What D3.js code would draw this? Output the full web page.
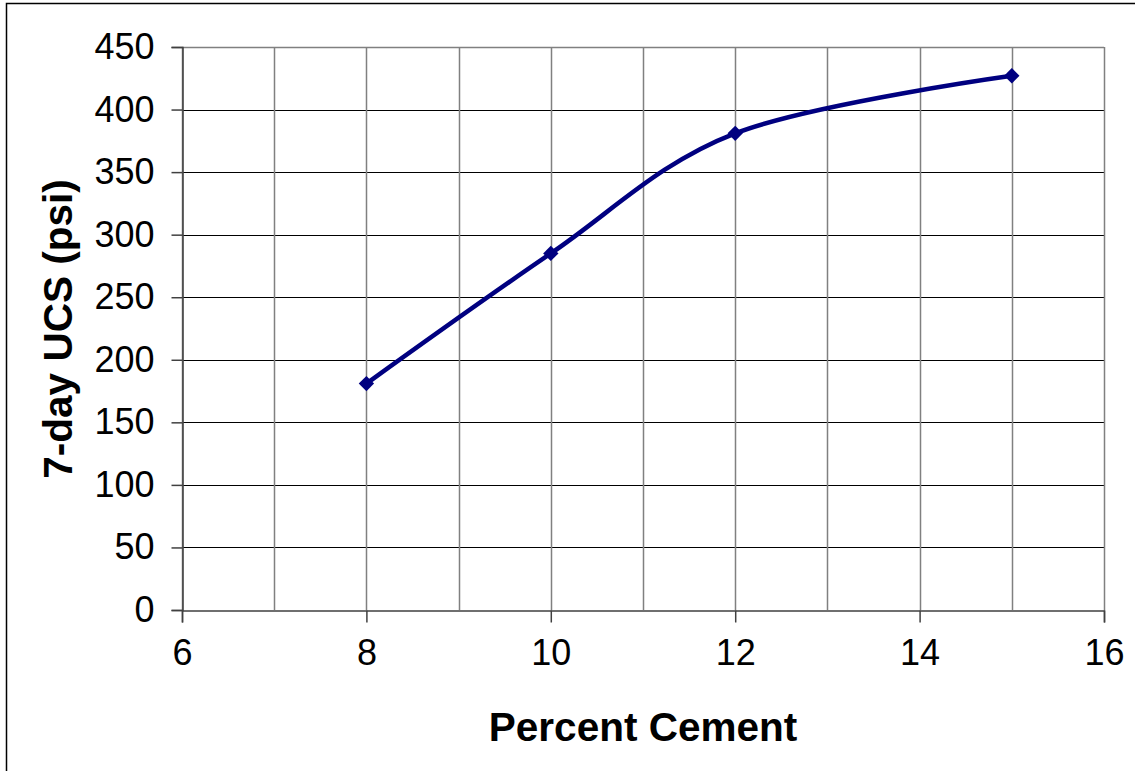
<!DOCTYPE html>
<html>
<head>
<meta charset="utf-8">
<script src="https://cdn.jsdelivr.net/npm/d3@7"></script>
<style>
html,body{margin:0;padding:0;background:#fff;}
svg{display:block;}
text{font-family:"Liberation Sans",Arial,sans-serif;fill:#000;}
</style>
</head>
<body>
<svg id="chart" width="1135" height="771"></svg>
<script>
const cementPct = [8, 10, 12, 15];
const ucsPsi = [181, 285, 381, 427];
const xTicks = [6, 7, 8, 9, 10, 11, 12, 13, 14, 15, 16];
const xTickLabels = [6, 8, 10, 12, 14, 16];
const yTicks = [0, 50, 100, 150, 200, 250, 300, 350, 400, 450];
const xTitle = "Percent Cement";
const yTitle = "7-day UCS (psi)";

const svg = d3.select("#chart");
const L = 182, R = 1104, T = 47, B = 610;
const x = d3.scaleLinear().domain([6, 16]).range([L, R]);
const y = d3.scaleLinear().domain([0, 450]).range([B, T]);

// outer chart border
svg.append("rect").attr("x", 6.5).attr("y", 3.5).attr("width", 1200).attr("height", 1000)
  .attr("fill", "none").attr("stroke", "#000").attr("stroke-width", 1.5);

// horizontal gridlines (black)
svg.append("g").selectAll("line").data(yTicks.filter(d => d > 0)).join("line")
  .attr("x1", L).attr("x2", R).attr("y1", d => Math.round(y(d)) + 0.5).attr("y2", d => Math.round(y(d)) + 0.5)
  .attr("stroke", "#000").attr("stroke-width", 1);

// vertical gridlines (gray)
svg.append("g").selectAll("line").data(xTicks).join("line")
  .attr("x1", d => Math.round(x(d)) + 0.5).attr("x2", d => Math.round(x(d)) + 0.5)
  .attr("y1", T).attr("y2", B)
  .attr("stroke", "#808080").attr("stroke-width", 1.5);

// plot area top border
svg.append("line").attr("x1", L).attr("x2", R).attr("y1", T + 0.5).attr("y2", T + 0.5)
  .attr("stroke", "#808080").attr("stroke-width", 1.5);

// Y axis
const yAxis = d3.axisLeft(y).tickValues(yTicks).tickSize(11).tickPadding(17).tickFormat(d3.format("d"));
const gy = svg.append("g").attr("transform", `translate(${L + 0.5},0)`).call(yAxis);
gy.select(".domain").attr("stroke", "#404040").attr("stroke-width", 1.5);
gy.selectAll(".tick line").attr("stroke", "#404040").attr("stroke-width", 1.5);
gy.selectAll(".tick text").attr("font-size", 36).attr("font-family", "Liberation Sans, Arial, sans-serif").attr("fill", "#000");

// X axis
const xAxis = d3.axisBottom(x).tickValues(xTickLabels).tickSize(12).tickPadding(17).tickFormat(d3.format("d"));
const gx = svg.append("g").attr("transform", `translate(0,${B + 0.5})`).call(xAxis);
gx.select(".domain").attr("stroke", "#404040").attr("stroke-width", 1.5);
gx.selectAll(".tick line").attr("stroke", "#404040").attr("stroke-width", 1.5);
gx.selectAll(".tick text").attr("font-size", 36).attr("font-family", "Liberation Sans, Arial, sans-serif").attr("fill", "#000");

// Series line
const pts = cementPct.map((c, i) => [c, ucsPsi[i]]);
const line = d3.line().x(d => x(d[0])).y(d => y(d[1])).curve(d3.curveCardinal.tension(0));
svg.append("path").datum(pts).attr("d", line)
  .attr("fill", "none").attr("stroke", "#000080").attr("stroke-width", 4.5).attr("stroke-linejoin", "round");

// Diamond markers
const sym = d3.symbol().type(d3.symbolDiamond2).size(150);
svg.append("g").selectAll("path").data(pts).join("path")
  .attr("transform", d => `translate(${x(d[0])},${y(d[1])})`)
  .attr("d", sym).attr("fill", "#000080");

// Titles
svg.append("text").attr("x", 643).attr("y", 741).attr("text-anchor", "middle")
  .attr("font-size", 40.5).attr("font-weight", "bold").text(xTitle);
svg.append("text").attr("transform", "translate(72,329) rotate(-90)").attr("text-anchor", "middle")
  .attr("font-size", 40.5).attr("font-weight", "bold").text(yTitle);
</script>
</body>
</html>
